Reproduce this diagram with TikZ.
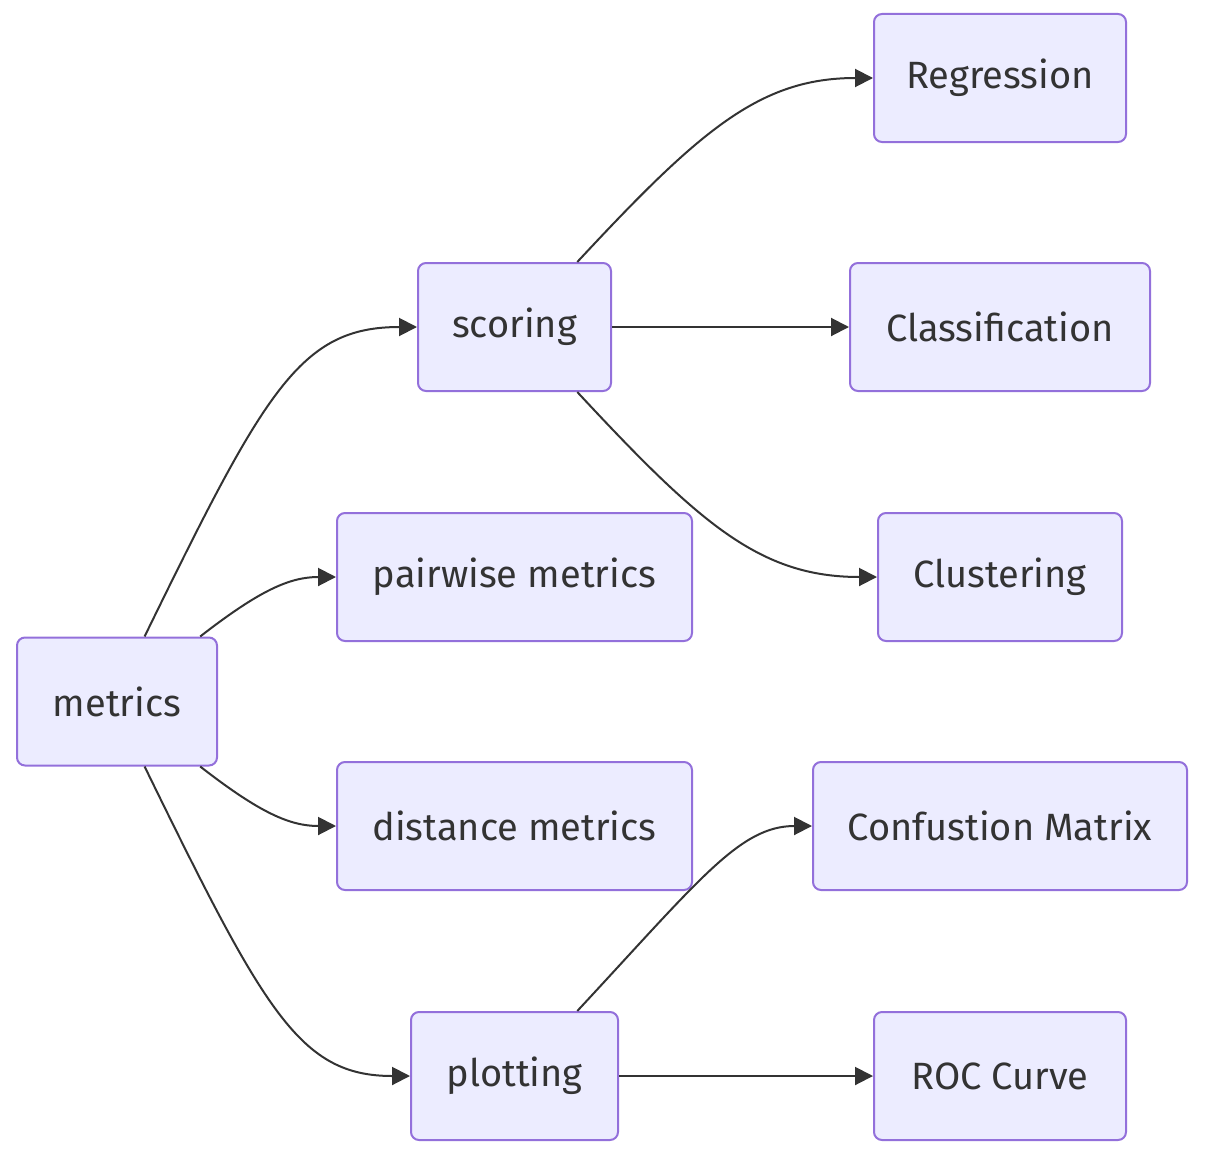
\documentclass[tikz,border=0pt]{standalone}
\usepackage{fontspec}
\setmainfont{Fira Sans}
\usetikzlibrary{arrows.meta}
\definecolor{boxfill}{HTML}{ECECFF}
\definecolor{boxline}{HTML}{9370DB}
\definecolor{edgeline}{HTML}{333333}
\tikzset{
  >={Triangle[length=18pt,width=18pt]},
  box/.style={rectangle,rounded corners=8pt,draw=boxline,fill=boxfill,line width=2pt,
    minimum height=128pt,inner sep=0pt,text=edgeline,font=\fontsize{38}{44}\selectfont},
  e/.style={->,draw=edgeline,line width=2pt},
}
\begin{document}
\begin{tikzpicture}[x=1pt,y=-1pt]
\useasboundingbox (0,0) rectangle (1228,1156);
\node[box,minimum width=200pt] (metrics) at (117,701.5){metrics};
\node[box,minimum width=193pt] (scoring) at (514.5,327){scoring};
\node[box,minimum width=355pt] (pairwise) at (514.5,577){pairwise metrics};
\node[box,minimum width=355pt] (distance) at (514.5,826){distance metrics};
\node[box,minimum width=207pt] (plotting) at (514.5,1076){plotting};
\node[box,minimum width=252pt] (regr) at (1000,78){Regression};
\node[box,minimum width=300pt] (clas) at (1000,327){Classification};
\node[box,minimum width=244pt] (clus) at (1000,577){Clustering};
\node[box,minimum width=374pt] (conf) at (1000,826){Confustion Matrix};
\node[box,minimum width=252pt] (roc) at (1000,1076){ROC Curve};
% edges from metrics
\draw[e] (metrics.67) .. controls (265,390) and (300,327) .. (scoring.west);
\draw[e] (metrics.38) .. controls (260,590) and (290,577) .. (pairwise.west);
\draw[e] (metrics.-38) .. controls (260,813) and (290,826) .. (distance.west);
\draw[e] (metrics.-67) .. controls (265,1013) and (300,1076) .. (plotting.west);
% edges from scoring and plotting
\draw[e] (scoring.46) .. controls (700,130) and (760,78) .. (regr.west);
\draw[e] (scoring.east) -- (clas.west);
\draw[e] (scoring.-46) .. controls (700,524) and (760,577) .. (clus.west);
\draw[e] (plotting.46) .. controls (700,879) and (740,826) .. (conf.west);
\draw[e] (plotting.east) -- (roc.west);
\end{tikzpicture}
\end{document}
